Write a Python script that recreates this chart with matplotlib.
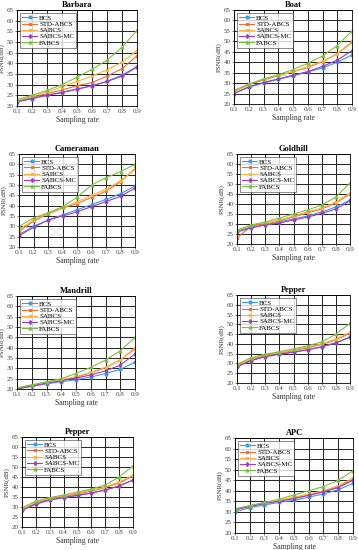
import matplotlib
matplotlib.use("Agg")
import matplotlib.pyplot as plt

rates = [0.1, 0.2, 0.3, 0.4, 0.5, 0.6, 0.7, 0.8, 0.9]
methods = ["BCS", "STD-ABCS", "SABCS", "SABCS-MC", "FABCS"]

barbara_bcs = [22, 23.5, 25, 26.5, 28, 29.5, 31.5, 34.5, 38.5]
barbara_std = [22.3, 24, 25.8, 27.5, 29.5, 31, 34, 37.5, 43.5]
barbara_sabcs = [22.5, 24.5, 26.5, 29, 31.5, 34, 37, 40.5, 46]
barbara_mc = [22, 23.5, 25, 26.3, 27.8, 29.5, 31.5, 34, 38.3]
barbara_fabcs = [23, 25, 27.3, 30, 33.5, 37.2, 41.5, 47.5, 55.5]

boat_bcs = [25, 28, 30, 31.8, 33.5, 35.3, 37.3, 40, 43.5]
boat_std = [26, 29.3, 31.5, 33.5, 35.5, 37.5, 40.3, 44, 49.5]
boat_sabcs = [26, 29.5, 31.8, 33.5, 35.5, 38, 40.5, 44, 50]
boat_mc = [25, 28.3, 30.3, 32, 33.8, 35.5, 38, 41, 45.5]
boat_fabcs = [26.5, 29.5, 32, 34, 36.5, 39.5, 43, 48, 55]

camera_bcs = [26, 30, 33, 35.5, 38, 40.5, 43, 45.8, 49.5]
camera_std = [27.5, 32.5, 36, 38.8, 41, 44, 47, 51.5, 58]
camera_sabcs = [28.5, 33, 36.3, 39, 42, 45, 48, 52, 57.5]
camera_mc = [25.5, 29.5, 33, 35, 37, 39.5, 42, 44.5, 48.5]
camera_fabcs = [30, 34, 36.5, 39.5, 44, 50, 53.5, 56.5, 60]

gold_bcs = [26.5, 28.5, 29.5, 31, 32.5, 34, 36, 38.5, 42]
gold_std = [23, 29, 30, 31.5, 33.5, 35.5, 37.5, 40.5, 45]
gold_sabcs = [26.5, 29.5, 30.5, 32, 34, 36, 38, 41, 45.5]
gold_mc = [26, 28, 29.5, 30.5, 32, 33.5, 35.3, 37.5, 41.5]
gold_fabcs = [27, 29.5, 31, 33, 35, 37, 39.5, 43.5, 50.5]

mand_bcs = [20, 21.3, 22.5, 23.5, 24.5, 25.8, 27.5, 29.5, 33]
mand_std = [20.3, 21.8, 23, 24.3, 25.8, 27.8, 30.3, 34, 39.5]
mand_sabcs = [20.5, 22, 23, 24.5, 26, 28, 30.5, 34, 40]
mand_mc = [20, 21.5, 22.8, 24, 25.3, 26.8, 28.8, 31.5, 37]
mand_fabcs = [20.5, 22, 23.5, 25, 27.5, 30.5, 34, 38.5, 45]

pep_bcs = [28.5, 31.5, 33.5, 34.8, 35.8, 37, 38.5, 40.5, 43.5]
pep_std = [28.5, 32, 34, 35.3, 36.5, 38, 39.7, 42, 45.5]
pep_sabcs = [29, 32.5, 34.5, 35.7, 37, 38.5, 40, 42.5, 46]
pep_mc = [28.3, 31.5, 33.5, 34.7, 35.8, 37, 38.5, 40.5, 43.5]
pep_fabcs = [29.5, 33, 34.7, 36, 37.5, 39, 41, 45, 50.5]

apc_bcs = [30, 32, 33.3, 34.5, 35.5, 37, 38.5, 40.5, 43.5]
apc_std = [31, 32.8, 34.2, 35.3, 36.5, 38, 39.5, 42, 45.5]
apc_sabcs = [31, 32.8, 34.2, 35.5, 37, 38.5, 40, 42.5, 46]
apc_mc = [31, 32.5, 34, 35, 36.3, 37.8, 39.5, 41.5, 45]
apc_fabcs = [31.5, 33, 34.5, 36, 38, 40, 42, 45, 49.5]

titles = ["Barbara", "Boat", "Cameraman", "Goldhill", "Mandrill", "Pepper", "Pepper", "APC"]
panels = [
    [barbara_bcs, barbara_std, barbara_sabcs, barbara_mc, barbara_fabcs],
    [boat_bcs, boat_std, boat_sabcs, boat_mc, boat_fabcs],
    [camera_bcs, camera_std, camera_sabcs, camera_mc, camera_fabcs],
    [gold_bcs, gold_std, gold_sabcs, gold_mc, gold_fabcs],
    [mand_bcs, mand_std, mand_sabcs, mand_mc, mand_fabcs],
    [pep_bcs, pep_std, pep_sabcs, pep_mc, pep_fabcs],
    [pep_bcs, pep_std, pep_sabcs, pep_mc, pep_fabcs],
    [apc_bcs, apc_std, apc_sabcs, apc_mc, apc_fabcs],
]

colors = ["#3d9be9", "#f26b3a", "#fdb43a", "#9b3fc0", "#7cc043"]
markers = ["o", "*", "x", "d", "^"]

# axes boxes in pixels: left, top, right, bottom
boxes = [
    (17, 10, 137, 106), (234, 10, 352, 104),
    (19, 154, 135, 247), (237, 154, 350, 244),
    (17, 296, 135, 389), (237, 295, 350, 383),
    (22, 437, 133, 527), (235, 438, 353, 533),
]

W, H = 358, 550
plt.rcParams['font.family'] = ['Liberation Serif', 'DejaVu Serif']
fig = plt.figure(figsize=(W / 100, H / 100), dpi=100)

for title, series, (l, t, r, b) in zip(titles, panels, boxes):
    ax = fig.add_axes([l / W, 1 - b / H, (r - l) / W, (b - t) / H])
    for vals, name, c, m in zip(series, methods, colors, markers):
        ax.plot(rates, vals, color=c, marker=m, markersize=2, lw=0.8, label=name)
    ax.set_xlim(0.1, 0.9)
    ax.set_ylim(20, 65)
    ax.set_xticks(rates)
    ax.set_yticks(range(20, 66, 5))
    ax.grid(True, color="#222222", lw=0.7)
    ax.set_axisbelow(True)
    ax.tick_params(labelsize=5, length=1.5, width=0.5, pad=1, colors="#444444")
    for s in ax.spines.values():
        s.set_linewidth(0.6)
    ax.set_title(title, fontsize=6, fontweight="bold", pad=2)
    ax.set_xlabel("Sampling rate", fontsize=5.5, labelpad=1, color="#333333")
    ax.set_ylabel("PSNR(dB)", fontsize=5, labelpad=1, color="#333333")
    leg = ax.legend(loc="upper left", fontsize=5, frameon=True, fancybox=False,
                    handlelength=2.2, borderpad=0.3, labelspacing=0.05,
                    handletextpad=0.3, borderaxespad=0.4)
    leg.get_frame().set_edgecolor("#333333")
    leg.get_frame().set_linewidth(0.5)

fig.savefig("out.png", dpi=100)
